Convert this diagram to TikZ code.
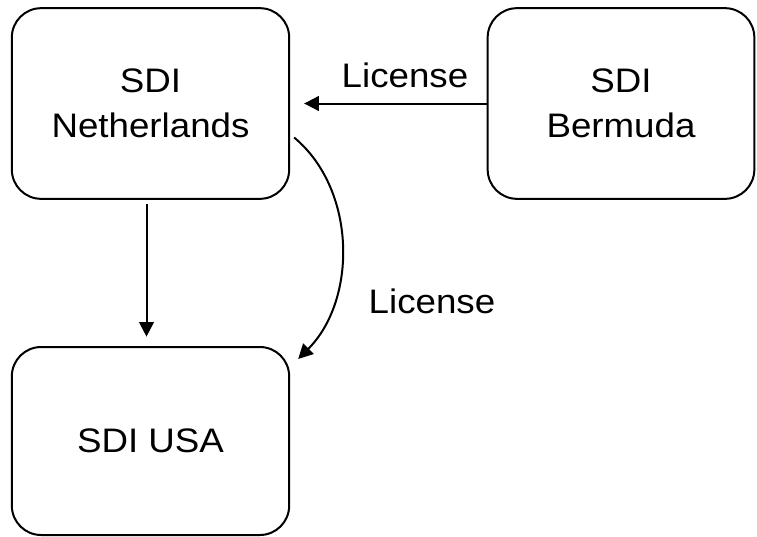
\documentclass[tikz,border=0pt]{standalone}
\usepackage{fontspec}
\setmainfont[FakeStretch=1.08]{Liberation Sans}
\usetikzlibrary{arrows.meta,calc}
\begin{document}
\begin{tikzpicture}[x=0.75pt,y=-0.75pt,
  entity/.style={draw, line width=1.5pt, rounded corners=22pt, align=center,
    font=\fontsize{25.5}{34}\selectfont, inner sep=0pt},
  lbl/.style={font=\fontsize{25.5}{34}\selectfont, inner sep=0pt},
  link/.style={line width=1.5pt, -{Triangle[length=11pt,width=11pt]}}]
  \useasboundingbox (0,0) rectangle (757,536);
  % the three companies
  \node[entity, minimum width=208pt, minimum height=143pt] (nl) at (150.5,103.5) {SDI\\Netherlands};
  \node[entity, minimum width=200pt, minimum height=143pt] (bm) at (621,103.5) {SDI\\Bermuda};
  \node[entity, minimum width=208pt, minimum height=141pt] (usa) at (150.5,441) {SDI USA};
  % licence flows
  \draw[link, shorten >=10.5pt] (bm.west) -- (nl.east);
  \draw[link, shorten <=3pt, shorten >=7pt] ($(nl.south)+(-4,0)$) -- ($(usa.north)+(-4,0)$);
  \coordinate (c0) at ($(nl.east)+(4,34)$);
  \coordinate (c1) at ($(usa.north east)+(8,13)$);
  \draw[link] (c0) .. controls (357,190) and (357,300) .. (c1);
  \node[lbl] (l1) at (405,75) {License};
  \node[lbl] (l2) at (432,301) {License};
\end{tikzpicture}
\end{document}
